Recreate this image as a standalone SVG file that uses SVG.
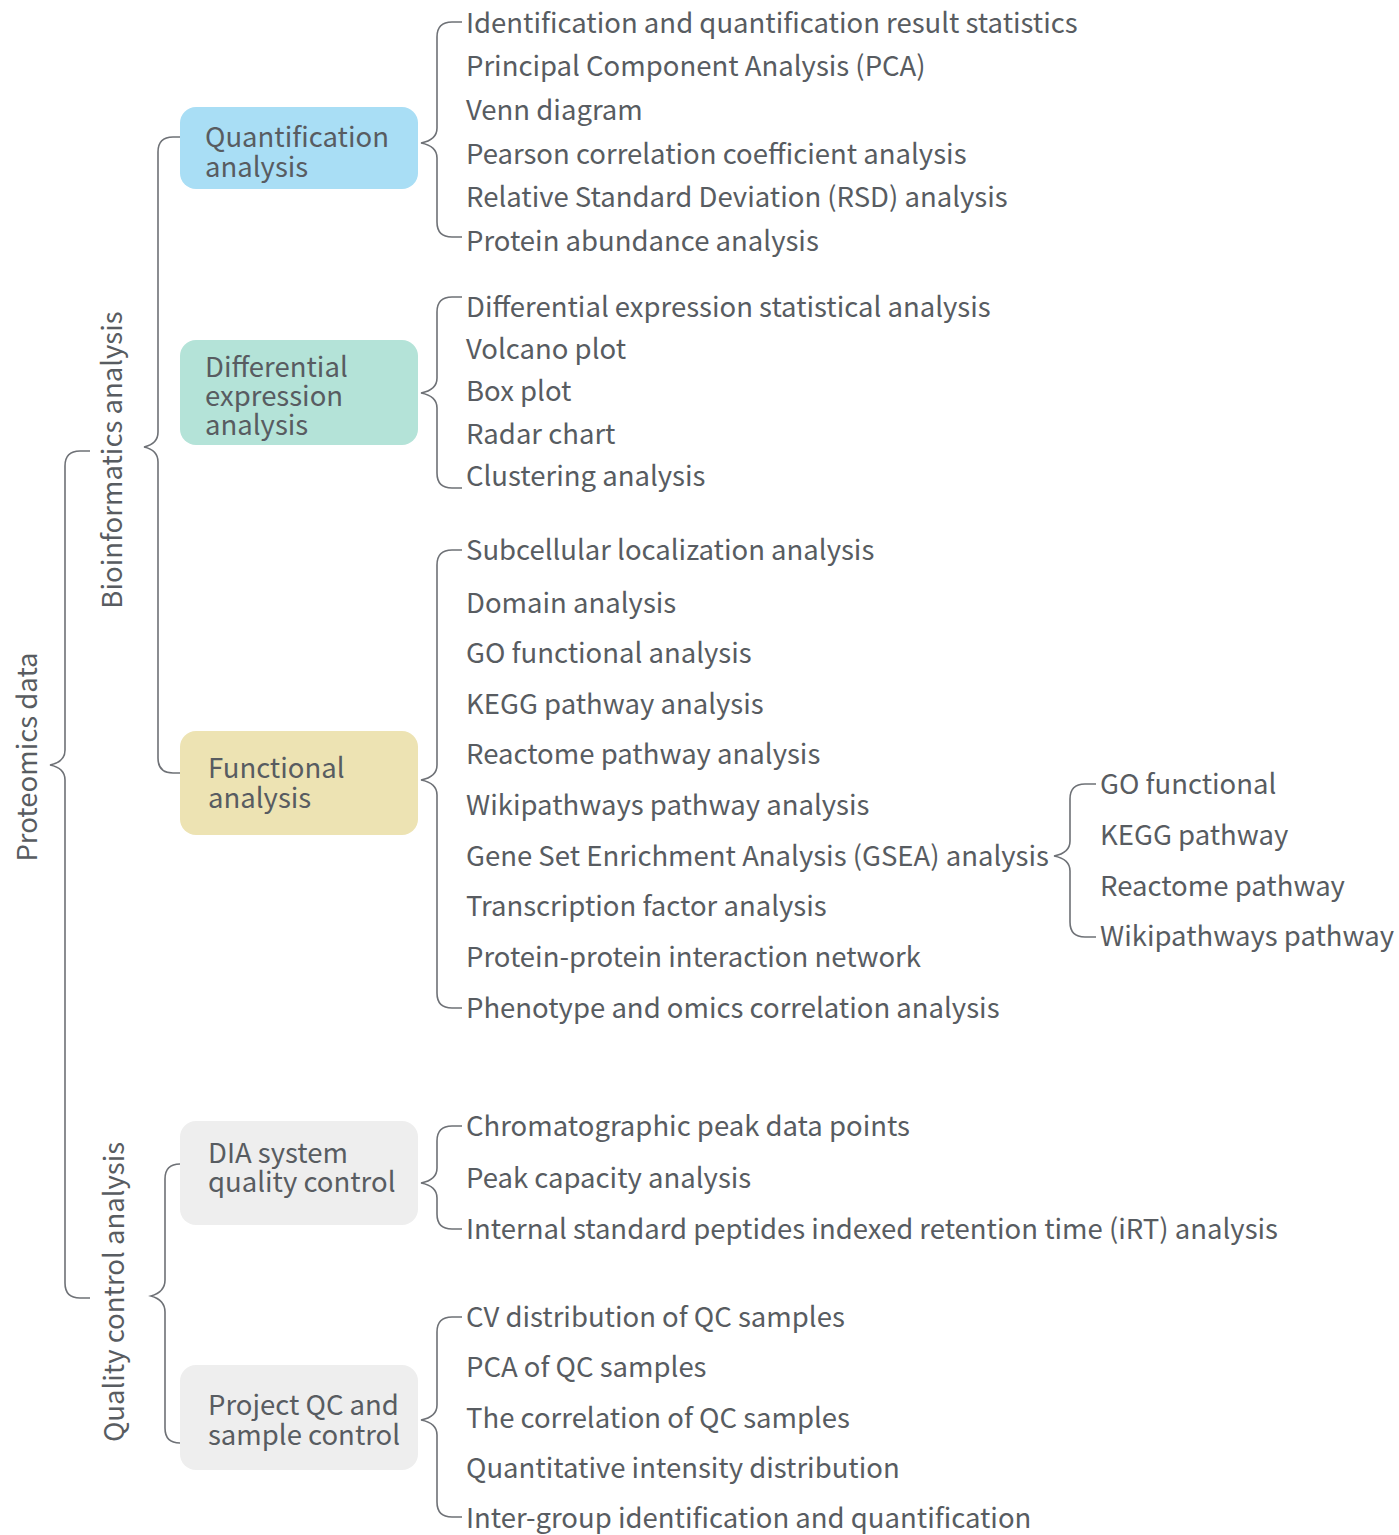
<svg xmlns="http://www.w3.org/2000/svg" width="1399" height="1535" viewBox="0 0 1399 1535">
<style>
text{font-family:"Noto Sans CJK SC","Source Sans Pro","Noto Sans",sans-serif;fill:#585c61;font-size:27.5px}
.b{fill:none;stroke:#6e7176;stroke-width:1.6}
</style>
<rect width="1399" height="1535" fill="#fff"/>
<g id="connectors">
<path class="b" d="M90,451 H80 Q65,451 65,466 V750 Q65,762 50,765 Q65,768 65,780 V1283 Q65,1298 80,1298 H90"/>
<path class="b" d="M183,137 H173 Q158,137 158,152 V432 Q158,444 144,447 Q158,450 158,462 V758 Q158,773 173,773 H183"/>
<path class="b" d="M192,1164 H180 Q165,1164 165,1179 V1280 Q165,1292 151,1296 Q165,1300 165,1312 V1428 Q165,1443 180,1443 H192"/>
<path class="b" d="M462,22 H452 Q437,22 437,37 V128 Q437,140 421,143 Q437,146 437,158 V222 Q437,237 452,237 H462"/>
<path class="b" d="M462,297 H452 Q437,297 437,312 V378 Q437,390 421,393 Q437,396 437,408 V473 Q437,488 452,488 H462"/>
<path class="b" d="M462,550 H452 Q437,550 437,565 V765 Q437,777 421,780 Q437,783 437,795 V993 Q437,1008 452,1008 H462"/>
<path class="b" d="M1096,784 H1085 Q1070,784 1070,799 V841 Q1070,853 1054,856 Q1070,859 1070,871 V922 Q1070,937 1085,937 H1096"/>
<path class="b" d="M462,1126 H452 Q437,1126 437,1141 V1168 Q437,1180 421,1183 Q437,1186 437,1198 V1214 Q437,1229 452,1229 H462"/>
<path class="b" d="M462,1317 H452 Q437,1317 437,1332 V1405 Q437,1417 421,1420 Q437,1423 437,1435 V1502 Q437,1517 452,1517 H462"/>
</g>
<g id="root"><text transform="translate(37,757) rotate(-90)" text-anchor="middle">Proteomics data</text></g>
<g id="bio"><text transform="translate(122,460) rotate(-90)" text-anchor="middle">Bioinformatics analysis</text></g>
<g id="qc"><text transform="translate(124,1292) rotate(-90)" text-anchor="middle">Quality control analysis</text></g>
<g id="quant"><rect x="180" y="107" width="238" height="82" rx="16" fill="#a9def5"/><text x="205" y="147">Quantification</text><text x="205" y="177">analysis</text></g>
<g id="diff"><rect x="180" y="340" width="238" height="105" rx="16" fill="#b4e3d8"/><text x="205" y="377">Differential</text><text x="205" y="406">expression</text><text x="205" y="435">analysis</text></g>
<g id="func"><rect x="180" y="731" width="238" height="104" rx="16" fill="#ede3b3"/><text x="208" y="778">Functional</text><text x="208" y="808">analysis</text></g>
<g id="dia"><rect x="180" y="1121" width="238" height="104" rx="16" fill="#eeeeee"/><text x="208" y="1163">DIA system</text><text x="208" y="1192">quality control</text></g>
<g id="proj"><rect x="180" y="1365" width="238" height="105" rx="16" fill="#eeeeee"/><text x="208" y="1415">Project QC and</text><text x="208" y="1445">sample control</text></g>
<g id="quant-items">
<text x="466" y="33">Identification and quantification result statistics</text>
<text x="466" y="76">Principal Component Analysis (PCA)</text>
<text x="466" y="120">Venn diagram</text>
<text x="466" y="164">Pearson correlation coefficient analysis</text>
<text x="466" y="207">Relative Standard Deviation (RSD) analysis</text>
<text x="466" y="251">Protein abundance analysis</text>
</g>
<g id="diff-items">
<text x="466" y="317">Differential expression statistical analysis</text>
<text x="466" y="359">Volcano plot</text>
<text x="466" y="401">Box plot</text>
<text x="466" y="444">Radar chart</text>
<text x="466" y="486">Clustering analysis</text>
</g>
<g id="func-items">
<text x="466" y="560">Subcellular localization analysis</text>
<text x="466" y="613">Domain analysis</text>
<text x="466" y="663">GO functional analysis</text>
<text x="466" y="714">KEGG pathway analysis</text>
<text x="466" y="764">Reactome pathway analysis</text>
<text x="466" y="815">Wikipathways pathway analysis</text>
<text x="466" y="866">Gene Set Enrichment Analysis (GSEA) analysis</text>
<text x="466" y="916">Transcription factor analysis</text>
<text x="466" y="967">Protein-protein interaction network</text>
<text x="466" y="1018">Phenotype and omics correlation analysis</text>
</g>
<g id="gsea-items">
<text x="1100" y="794">GO functional</text>
<text x="1100" y="845">KEGG pathway</text>
<text x="1100" y="896">Reactome pathway</text>
<text x="1100" y="946">Wikipathways pathway</text>
</g>
<g id="dia-items">
<text x="466" y="1136">Chromatographic peak data points</text>
<text x="466" y="1188">Peak capacity analysis</text>
<text x="466" y="1239">Internal standard peptides indexed retention time (iRT) analysis</text>
</g>
<g id="proj-items">
<text x="466" y="1327">CV distribution of QC samples</text>
<text x="466" y="1377">PCA of QC samples</text>
<text x="466" y="1428">The correlation of QC samples</text>
<text x="466" y="1478">Quantitative intensity distribution</text>
<text x="466" y="1528">Inter-group identification and quantification</text>
</g>
</svg>
